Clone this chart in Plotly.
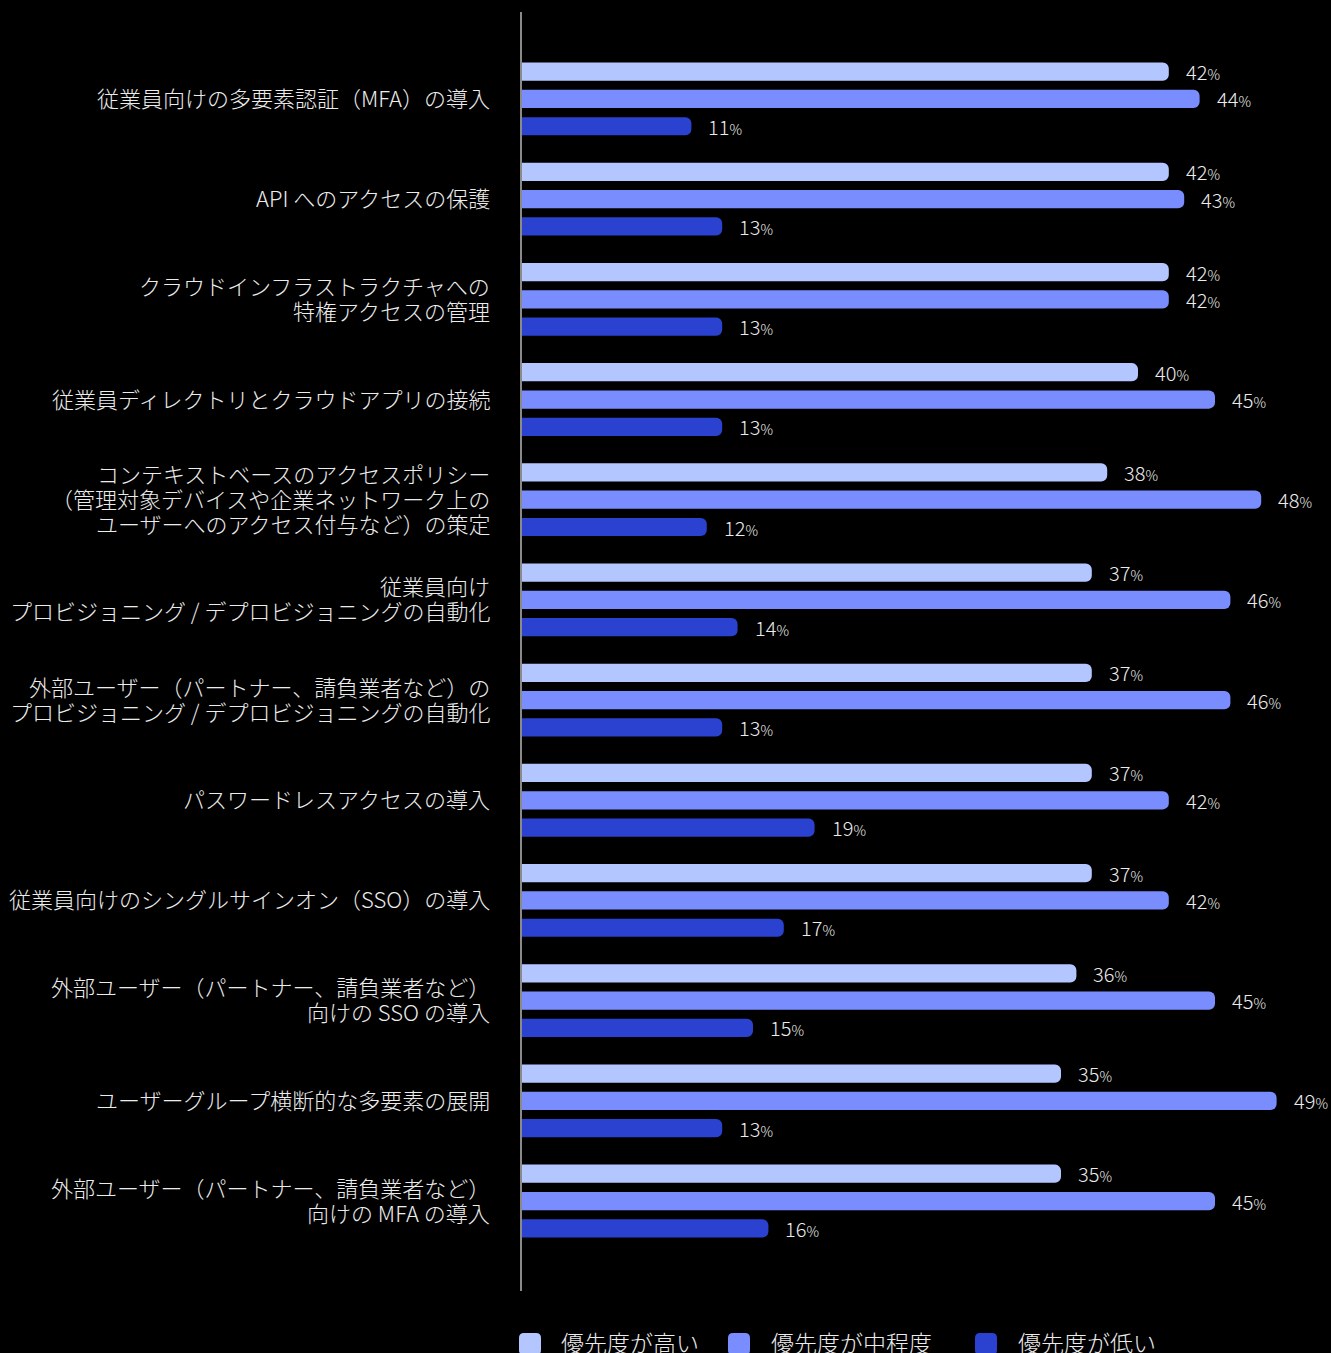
import plotly.graph_objects as go

# --- data ---------------------------------------------------------------
categories = [
    "従業員向けの多要素認証（MFA）の導入",
    "API へのアクセスの保護",
    "クラウドインフラストラクチャへの<br>特権アクセスの管理",
    "従業員ディレクトリとクラウドアプリの接続",
    "コンテキストベースのアクセスポリシー<br>（管理対象デバイスや企業ネットワーク上の<br>ユーザーへのアクセス付与など）の策定",
    "従業員向け<br>プロビジョニング / デプロビジョニングの自動化",
    "外部ユーザー（パートナー、請負業者など）の<br>プロビジョニング / デプロビジョニングの自動化",
    "パスワードレスアクセスの導入",
    "従業員向けのシングルサインオン（SSO）の導入",
    "外部ユーザー（パートナー、請負業者など）<br>向けの SSO の導入",
    "ユーザーグループ横断的な多要素の展開",
    "外部ユーザー（パートナー、請負業者など）<br>向けの MFA の導入",
]
series_names = ["優先度が高い", "優先度が中程度", "優先度が低い"]
high = [42, 42, 42, 40, 38, 37, 37, 37, 37, 36, 35, 35]
medium = [44, 43, 42, 45, 48, 46, 46, 42, 42, 45, 49, 45]
low = [11, 13, 13, 13, 12, 14, 13, 19, 17, 15, 13, 16]
series_values = [high, medium, low]
colors = ["#b4c6ff", "#7a8dff", "#2b41cf"]

# --- geometry -----------------------------------------------------------
W, H = 1331, 1353
M_L, M_R, M_T, M_B = 522, 0, 12, 62
PX_PER_PCT = 15.4
PLOT_W = W - M_L - M_R
PLOT_H = H - M_T - M_B
SLOT = 27.3          # vertical distance between bars of one group (px)
LINE_H = 25          # line height of category labels (px)
FONT = "Noto Sans CJK JP, Noto Sans, sans-serif"
TEXT_COLOR = "#ececec"

ypos = list(range(len(categories)))

fig = go.Figure()
for name, vals, col in zip(series_names, series_values, colors):
    fig.add_trace(go.Bar(
        x=vals, y=ypos, orientation="h", name=name,
        marker=dict(color=col, line=dict(width=0)),
        showlegend=False, hoverinfo="skip",
    ))

annotations = []
# value labels at the end of each bar
for j, vals in enumerate(series_values):
    for i, v in enumerate(vals):
        annotations.append(dict(
            x=v, y=i, xref="x", yref="y",
            text=f"{v}<span style='font-size:14px'>%</span>",
            showarrow=False, xanchor="left", yanchor="middle",
            xshift=15, yshift=-(j - 1) * SLOT,
            font=dict(family=FONT, size=20, color=TEXT_COLOR, weight=300),
        ))

# category labels, one annotation per line for tight line spacing
for i, cat in enumerate(categories):
    lines = cat.split("<br>")
    n = len(lines)
    for k, line in enumerate(lines):
        annotations.append(dict(
            x=0, y=i, xref="paper", yref="y",
            text=line, showarrow=False,
            xanchor="right", yanchor="middle",
            xshift=-30, yshift=-(k - (n - 1) / 2) * LINE_H + 2,
            font=dict(family=FONT, size=22, color=TEXT_COLOR, weight=300),
        ))

# legend row under the plot
def px_to_paper_x(px):
    return (px - M_L) / PLOT_W

def px_to_paper_y(py):
    return (H - M_B - py) / PLOT_H

legend_square_x = [530, 739, 986]
legend_text_x = [559, 769, 1016]
legend_y = 1344
r, s = 5, 11
rounded = (f"M {-s + r},{-s} L {s - r},{-s} Q {s},{-s} {s},{-s + r} "
           f"L {s},{s - r} Q {s},{s} {s - r},{s} L {-s + r},{s} "
           f"Q {-s},{s} {-s},{s - r} L {-s},{-s + r} Q {-s},{-s} {-s + r},{-s} Z")
shapes = []
for name, col, sx, tx in zip(series_names, colors, legend_square_x, legend_text_x):
    shapes.append(dict(
        type="path", path=rounded,
        xref="paper", yref="paper",
        xsizemode="pixel", ysizemode="pixel",
        xanchor=px_to_paper_x(sx), yanchor=px_to_paper_y(legend_y),
        fillcolor=col, line=dict(width=0),
    ))
    annotations.append(dict(
        x=px_to_paper_x(tx), y=px_to_paper_y(legend_y - 2),
        xref="paper", yref="paper", text=name, showarrow=False,
        xanchor="left", yanchor="middle",
        font=dict(family=FONT, size=23, color=TEXT_COLOR, weight=300),
    ))

fig.update_layout(
    width=W, height=H,
    margin=dict(l=M_L, r=M_R, t=M_T, b=M_B, pad=0),
    paper_bgcolor="#000000", plot_bgcolor="#000000",
    barmode="group", bargap=0.1825, bargroupgap=0.333,
    barcornerradius=6,
    xaxis=dict(range=[0, PLOT_W / PX_PER_PCT], visible=False, fixedrange=True),
    yaxis=dict(
        range=[11.898, -0.868], showticklabels=False, ticks="",
        showgrid=False, zeroline=False,
        showline=True, linecolor="#8a8a8a", linewidth=2, fixedrange=True,
    ),
    annotations=annotations,
    shapes=shapes,
    showlegend=False,
    font=dict(family=FONT),
)

fig.write_html("out.html")
